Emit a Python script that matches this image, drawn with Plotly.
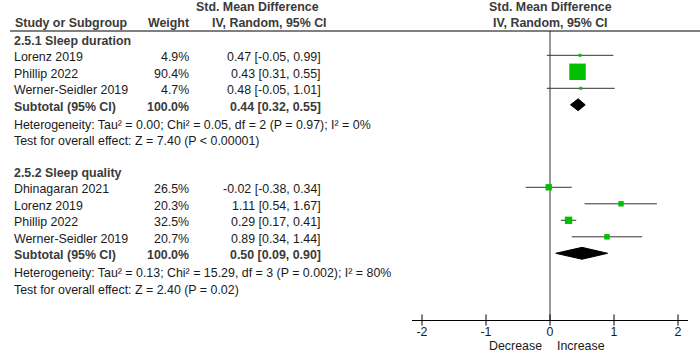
import plotly.graph_objects as go

# ---------------- data ----------------
sd_title = "2.5.1 Sleep duration"
sd_studies = ["Lorenz 2019", "Phillip 2022", "Werner-Seidler 2019"]
sd_weight = [4.9, 90.4, 4.7]
sd_est = [0.47, 0.43, 0.48]
sd_lo = [-0.05, 0.31, -0.05]
sd_hi = [0.99, 0.55, 1.01]
sd_sub = [0.44, 0.32, 0.55]
sd_het = "Heterogeneity: Tau² = 0.00; Chi² = 0.05, df = 2 (P = 0.97); I² = 0%"
sd_test = "Test for overall effect: Z = 7.40 (P < 0.00001)"

sq_title = "2.5.2 Sleep quality"
sq_studies = ["Dhinagaran 2021", "Lorenz 2019", "Phillip 2022", "Werner-Seidler 2019"]
sq_weight = [26.5, 20.3, 32.5, 20.7]
sq_est = [-0.02, 1.11, 0.29, 0.89]
sq_lo = [-0.38, 0.54, 0.17, 0.34]
sq_hi = [0.34, 1.67, 0.41, 1.44]
sq_sub = [0.50, 0.09, 0.90]
sq_het = "Heterogeneity: Tau² = 0.13; Chi² = 15.29, df = 3 (P = 0.002); I² = 80%"
sq_test = "Test for overall effect: Z = 2.40 (P = 0.02)"

tick_vals = [-2, -1, 0, 1, 2]
tick_text = ["-2", "-1", "0", "1", "2"]
favours_left = "Decrease"
favours_right = "Increase"

# ---------------- layout helpers ----------------
W, H = 700, 351
ROW0_PX, ROW_PX = 38.8, 16.5
AXIS_PX = 320
X0_PX, UNIT_PX = 550, 64
AX_L, AX_R = 412, 688

FONT = "Liberation Sans, Arial, sans-serif"
FS = 12.4
TXT = "#1a1a1a"
BOLD = "#3a3a3a"
GREEN = "rgb(0,192,0)"

def px(x):
    return x / W

def pyp(y):
    return (H - y) / H

fig = go.Figure()
ann = []

def text(x, row, s, align="left", bold=False, dy=0.12):
    ann.append(dict(
        x=px(x), xref="paper", y=row + dy, yref="y",
        text=f"<b>{s}</b>" if bold else s, showarrow=False,
        xanchor=align, yanchor="middle",
        font=dict(family=FONT, size=FS, color=BOLD if bold else TXT)))

def group(start, title, studies, w, est, lo, hi, sub, het, test):
    r = start
    text(12, r, title, bold=True)
    rows = []
    for i, s in enumerate(studies):
        r += 1
        rows.append(r)
        text(12, r, s)
        text(191, r, f"{w[i]:.1f}%", align="right")
        text(323, r, f"{est[i]:.2f} [{lo[i]:.2f}, {hi[i]:.2f}]", align="right")
        fig.add_trace(go.Scatter(x=[lo[i], hi[i]], y=[r, r], mode="lines",
                                 line=dict(color="#333333", width=1),
                                 hoverinfo="skip", showlegend=False))
    fig.add_trace(go.Scatter(
        x=est, y=rows, mode="markers", showlegend=False,
        marker=dict(symbol="square", color=GREEN, opacity=1,
                    size=[2.2 + 0.158 * v for v in w], line=dict(width=0))))
    r += 1
    text(12, r, "Subtotal (95% CI)", bold=True)
    text(191, r, f"{sum(w):.1f}%", align="right", bold=True)
    text(323, r, f"{sub[0]:.2f} [{sub[1]:.2f}, {sub[2]:.2f}]", align="right", bold=True)
    hh = 0.36
    fig.add_trace(go.Scatter(
        x=[sub[1], sub[0], sub[2], sub[0], sub[1]],
        y=[r, r - hh, r, r + hh, r], mode="lines", fill="toself",
        fillcolor="black", line=dict(color="black", width=1),
        hoverinfo="skip", showlegend=False))
    r += 1
    text(12, r, het, dy=0.2)
    r += 1
    text(12, r, test, dy=0.2)
    return r

end1 = group(0, sd_title, sd_studies, sd_weight, sd_est, sd_lo, sd_hi, sd_sub, sd_het, sd_test)
group(end1 + 2, sq_title, sq_studies, sq_weight, sq_est, sq_lo, sq_hi, sq_sub, sq_het, sq_test)

# headers
hdr = dict(showarrow=False, xref="paper", yref="paper", yanchor="middle",
           font=dict(family=FONT, size=FS, color=BOLD))
ann += [
    dict(hdr, x=px(13), y=pyp(23), text="<b>Study or Subgroup</b>", xanchor="left"),
    dict(hdr, x=px(191), y=pyp(23), text="<b>Weight</b>", xanchor="right"),
    dict(hdr, x=px(257), y=pyp(7), text="<b>Std. Mean Difference</b>", xanchor="center"),
    dict(hdr, x=px(269), y=pyp(23), text="<b>IV, Random, 95% CI</b>", xanchor="center"),
    dict(hdr, x=px(X0_PX), y=pyp(7), text="<b>Std. Mean Difference</b>", xanchor="center"),
    dict(hdr, x=px(X0_PX), y=pyp(23), text="<b>IV, Random, 95% CI</b>", xanchor="center"),
]
ann += [
    dict(x=-0.1, xref="x", y=pyp(345.5), yref="paper", text=favours_left, showarrow=False,
         xanchor="right", yanchor="middle", font=dict(family=FONT, size=FS, color=TXT)),
    dict(x=0.08, xref="x", y=pyp(345.5), yref="paper", text=favours_right, showarrow=False,
         xanchor="left", yanchor="middle", font=dict(family=FONT, size=FS, color=TXT)),
]

axis_row = (AXIS_PX - ROW0_PX) / ROW_PX
fig.add_trace(go.Scatter(x=tick_vals, y=[axis_row] * len(tick_vals), mode="markers",
                         marker=dict(symbol="line-ns", size=8, line=dict(width=1, color="black")),
                         hoverinfo="skip", showlegend=False, cliponaxis=False))

shapes = [
    dict(type="line", xref="paper", yref="paper", x0=px(10), x1=1.0, y0=pyp(31), y1=pyp(31),
         line=dict(color="black", width=1)),
    dict(type="line", xref="x", yref="paper", x0=0, x1=0, y0=pyp(AXIS_PX), y1=pyp(31),
         line=dict(color="#333333", width=1), layer="below"),
]

half = (AX_R - X0_PX) / UNIT_PX
fig.update_layout(
    width=W, height=H, margin=dict(l=0, r=0, t=0, b=0),
    paper_bgcolor="white", plot_bgcolor="white",
    annotations=ann, shapes=shapes, showlegend=False,
    xaxis=dict(domain=[px(AX_L), px(AX_R)], range=[-(X0_PX - AX_L) / UNIT_PX, half],
               anchor="free", position=pyp(AXIS_PX), showgrid=False, zeroline=False,
               showline=True, linecolor="black", linewidth=1,
               tickmode="array", tickvals=tick_vals, ticktext=tick_text,
               ticks="", tickfont=dict(family=FONT, size=FS, color=TXT)),
    yaxis=dict(domain=[0, 1], range=[(H - ROW0_PX) / ROW_PX, -ROW0_PX / ROW_PX],
               visible=False),
)

fig.write_html("out.html", config={"displayModeBar": False},
               post_script="document.body.style.margin='0';document.body.style.padding='0';")
